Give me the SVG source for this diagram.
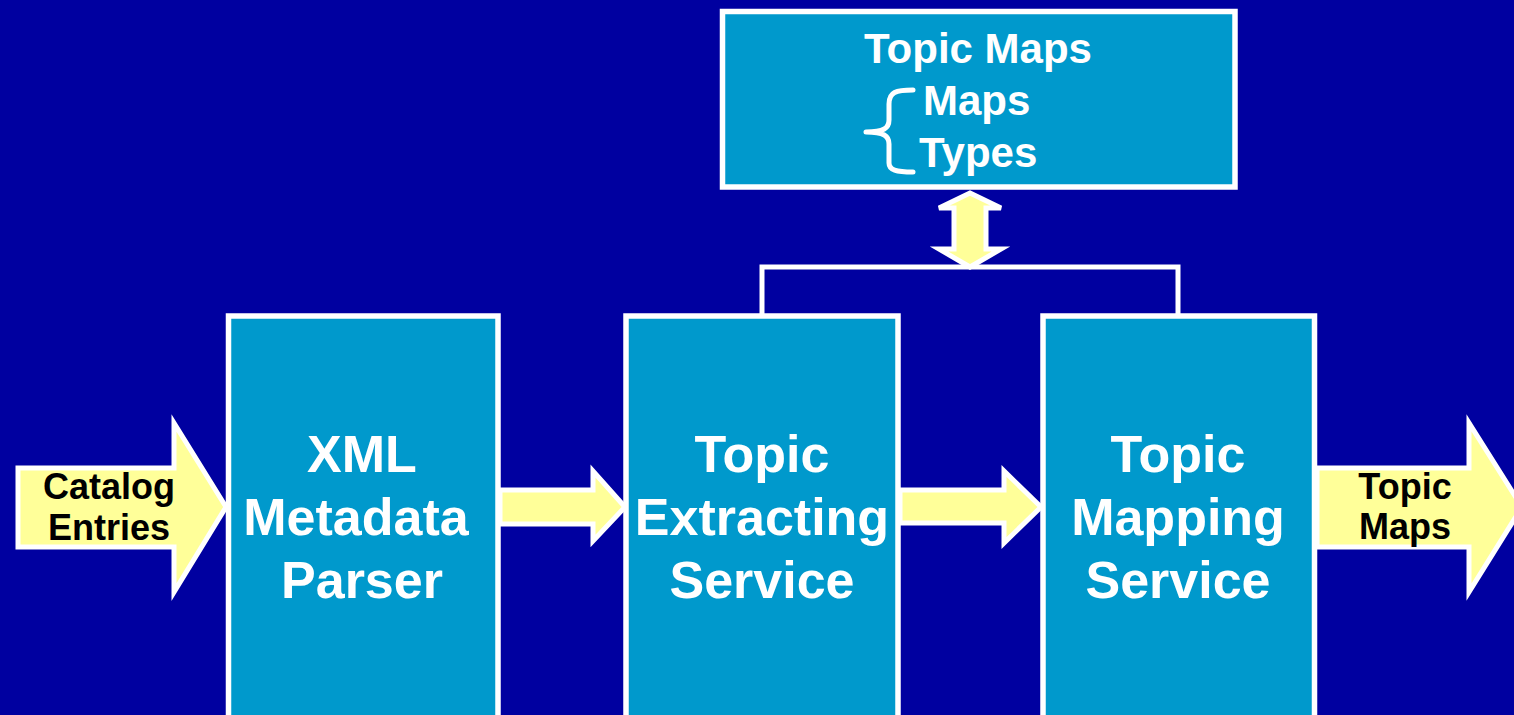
<svg xmlns="http://www.w3.org/2000/svg" width="1514" height="715" viewBox="0 0 1514 715">
  <style>
    .box { fill: #0099CC; stroke: #FFFFFF; stroke-width: 5.5; }
    .flow { fill: #FFFF99; stroke: #FFFFFF; stroke-width: 5; stroke-linejoin: miter; }
    .link { fill: none; stroke: #FFFFFF; stroke-width: 5; }
    .big { font-family: "Liberation Sans", Arial, sans-serif; font-weight: bold; font-size: 52px; fill: #FFFFFF; text-anchor: middle; }
    .mid { font-family: "Liberation Sans", Arial, sans-serif; font-weight: bold; font-size: 42px; fill: #FFFFFF; }
    .lbl { font-family: "Liberation Sans", Arial, sans-serif; font-weight: bold; font-size: 36px; fill: #000000; text-anchor: middle; }
  </style>
  <rect x="0" y="0" width="1514" height="715" fill="#0000A0"/>

  <!-- connectors -->
  <g id="connectors">
    <polyline class="link" points="762,316 762,267 1178,267 1178,316"/>
    <polygon class="flow" points="970,193 1001,208 986,208 986,249 1001,249 970,267 939,249 954,249 954,208 939,208"/>
    <polygon class="flow" points="18,468 174,468 174,423 226,507 174,592 174,547 18,547"/>
    <polygon class="flow" points="500,490 593,490 593,471 625,507 593,541 593,524 500,524"/>
    <polygon class="flow" points="900,490 1004,490 1004,471 1041,507 1004,543 1004,523 900,523"/>
    <polygon class="flow" points="1317,468 1469,468 1469,423 1522,507 1469,592 1469,547 1317,547"/>
  </g>

  <!-- input / output labels -->
  <g id="catalog-entries">
    <text class="lbl" x="109" y="499">Catalog</text>
    <text class="lbl" x="109" y="540">Entries</text>
  </g>
  <g id="topic-maps-out">
    <text class="lbl" x="1405" y="499">Topic</text>
    <text class="lbl" x="1405" y="539">Maps</text>
  </g>

  <g id="xml-parser">
    <rect class="box" x="228.5" y="316" width="269.5" height="410"/>
    <text class="big" x="362" y="472">XML</text>
    <text class="big" x="356" y="535">Metadata</text>
    <text class="big" x="362" y="598">Parser</text>
  </g>

  <g id="topic-extracting">
    <rect class="box" x="626" y="316" width="272" height="410"/>
    <text class="big" x="762" y="472">Topic</text>
    <text class="big" x="762" y="535">Extracting</text>
    <text class="big" x="762" y="598">Service</text>
  </g>

  <g id="topic-mapping">
    <rect class="box" x="1043" y="316" width="271.5" height="410"/>
    <text class="big" x="1178" y="472">Topic</text>
    <text class="big" x="1178" y="535">Mapping</text>
    <text class="big" x="1178" y="598">Service</text>
  </g>

  <g id="topic-maps-store">
    <rect class="box" x="722.5" y="11.5" width="512.5" height="175.5"/>
    <text class="mid" x="978" y="63" text-anchor="middle">Topic Maps</text>
    <text class="mid" x="923" y="115">Maps</text>
    <text class="mid" x="919" y="167">Types</text>
    <path d="M913,90 C896,90 889,92 889,104 L889,120 C889,128 884,132 866,132 C884,132 889,136 889,144 L889,163 C889,170 896,172 913,172" fill="none" stroke="#FFFFFF" stroke-width="5" stroke-linecap="round" stroke-linejoin="round"/>
  </g>
</svg>
